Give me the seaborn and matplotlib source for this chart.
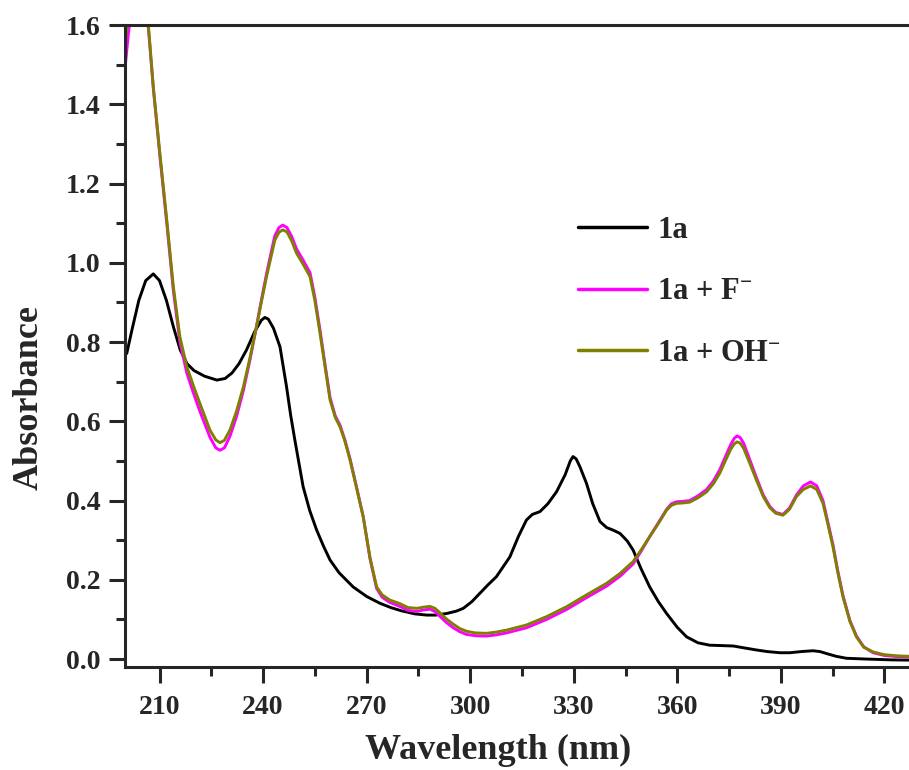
import numpy as np
import pandas as pd
import matplotlib
matplotlib.use("Agg")
import matplotlib.pyplot as plt
import seaborn as sns

# UV-vis absorption spectra of 1a alone and with added F- / OH-
wl_1a = [200.5, 202, 204, 206, 208.2, 210, 212, 214, 216, 218,
         220, 223, 226.6, 229, 231, 233, 235.2, 237.5, 239.5, 240.5,
         241.5, 243, 244.9, 246.8, 248, 249.2, 251.6, 253.5, 255.5, 257.5,
         259.4, 262, 266.1, 270, 273.8, 277, 280, 284, 287.4, 290,
         293.2, 296, 298, 300.5, 302.8, 305, 307.6, 311.5, 314, 316.3,
         318, 320.2, 322.5, 325, 327.5, 329, 329.8, 330.7, 331.8, 333.7,
         335.5, 337.6, 339.5, 341.5, 343.4, 345.5, 347.2, 349.5, 352, 354.5,
         356.9, 360, 362.7, 366, 369.4, 373, 376.2, 379.5, 382.9, 386,
         389.7, 392.6, 396, 399.3, 401.3, 403.2, 406, 409, 415, 422,
         430]
abs_1a = [0.771, 0.830, 0.905, 0.955, 0.972, 0.955, 0.905, 0.839, 0.780, 0.745,
          0.728, 0.714, 0.704, 0.708, 0.722, 0.745, 0.780, 0.825, 0.855, 0.862,
          0.858, 0.835, 0.788, 0.687, 0.615, 0.553, 0.435, 0.375, 0.326, 0.285,
          0.250, 0.218, 0.182, 0.158, 0.141, 0.130, 0.122, 0.114, 0.111, 0.111,
          0.115, 0.121, 0.128, 0.145, 0.166, 0.186, 0.208, 0.258, 0.310, 0.351,
          0.365, 0.372, 0.392, 0.422, 0.465, 0.500, 0.511, 0.505, 0.485, 0.443,
          0.392, 0.347, 0.332, 0.325, 0.317, 0.298, 0.275, 0.228, 0.182, 0.145,
          0.115, 0.080, 0.056, 0.041, 0.035, 0.034, 0.033, 0.028, 0.023, 0.019,
          0.016, 0.016, 0.019, 0.021, 0.019, 0.014, 0.007, 0.002, 0.000, -0.002,
          -0.003]

wl_anion = [200, 201, 202, 203.5, 205, 206, 206.8, 208.2, 210.1, 212.1,
            214, 215.9, 217.9, 219.8, 221.7, 224.6, 226.3, 227.5, 228.8, 230.4,
            232.3, 234.3, 236.2, 238.1, 239.6, 241, 242.3, 243.4, 244.6, 245.7,
            246.9, 248.3, 249.7, 251.7, 253.6, 255, 256.5, 258, 259.4, 260.9,
            262.3, 263.7, 265.2, 267, 269, 271, 272.9, 274.5, 276.7, 279.6,
            282, 284.5, 286.5, 288.3, 289.8, 291.2, 293, 295.1, 297, 299,
            301.5, 304.7, 307.5, 310.5, 316.3, 322.1, 327.9, 333.7, 339.5, 343.4,
            347.2, 349.5, 352, 354.5, 356.9, 358.3, 359.8, 361.7, 363.6, 366,
            368.5, 370.5, 372.3, 374, 375.5, 376.5, 377.3, 378.2, 379.2, 381,
            383, 384.9, 386.8, 388.5, 390.6, 392.5, 394.5, 396.5, 398.6, 400.4,
            402.2, 403.5, 405.1, 406.5, 408, 410, 411.9, 414, 416.7, 420,
            424, 430]
abs_f = [1.49, 1.58, 1.65, 1.72, 1.70, 1.64, 1.59, 1.44, 1.27, 1.10,
         0.930, 0.800, 0.722, 0.672, 0.625, 0.560, 0.533, 0.527, 0.533, 0.562,
         0.612, 0.678, 0.755, 0.840, 0.910, 0.972, 1.025, 1.068, 1.089, 1.095,
         1.089, 1.066, 1.035, 1.005, 0.975, 0.913, 0.830, 0.740, 0.660, 0.614,
         0.590, 0.553, 0.505, 0.437, 0.360, 0.252, 0.178, 0.156, 0.143, 0.133,
         0.123, 0.120, 0.124, 0.126, 0.120, 0.108, 0.093, 0.079, 0.069, 0.062,
         0.059, 0.058, 0.061, 0.066, 0.079, 0.100, 0.125, 0.155, 0.184, 0.209,
         0.240, 0.272, 0.309, 0.344, 0.378, 0.392, 0.397, 0.398, 0.400, 0.412,
         0.428, 0.450, 0.478, 0.512, 0.542, 0.557, 0.563, 0.559, 0.545, 0.503,
         0.456, 0.414, 0.385, 0.370, 0.365, 0.381, 0.414, 0.437, 0.447, 0.437,
         0.400, 0.350, 0.288, 0.222, 0.160, 0.097, 0.058, 0.031, 0.016, 0.009,
         0.006, 0.004]
abs_oh = [1.55, 1.63, 1.69, 1.75, 1.72, 1.66, 1.596, 1.444, 1.276, 1.108,
          0.940, 0.813, 0.738, 0.690, 0.645, 0.578, 0.553, 0.546, 0.552, 0.578,
          0.625, 0.687, 0.760, 0.839, 0.905, 0.965, 1.015, 1.057, 1.077, 1.083,
          1.078, 1.055, 1.024, 0.995, 0.965, 0.905, 0.822, 0.735, 0.654, 0.610,
          0.586, 0.550, 0.502, 0.435, 0.359, 0.255, 0.182, 0.162, 0.149, 0.140,
          0.130, 0.128, 0.131, 0.133, 0.128, 0.117, 0.102, 0.088, 0.077, 0.070,
          0.066, 0.065, 0.068, 0.073, 0.086, 0.107, 0.132, 0.162, 0.191, 0.216,
          0.246, 0.275, 0.309, 0.342, 0.376, 0.388, 0.393, 0.394, 0.396, 0.407,
          0.422, 0.443, 0.469, 0.502, 0.530, 0.543, 0.548, 0.545, 0.532, 0.494,
          0.450, 0.410, 0.382, 0.368, 0.363, 0.378, 0.410, 0.428, 0.437, 0.428,
          0.393, 0.345, 0.283, 0.218, 0.157, 0.095, 0.056, 0.030, 0.018, 0.011,
          0.008, 0.006]

series_names = ["1a", r"1a + F$^{\mathbf{-}}$", r"1a + OH$^{\mathbf{-}}$"]
series_colors = ["#000000", "#FF00FF", "#808000"]

x_ticks = [210, 240, 270, 300, 330, 360, 390, 420]
y_ticks = [0.0, 0.2, 0.4, 0.6, 0.8, 1.0, 1.2, 1.4, 1.6]

df = pd.concat([
    pd.DataFrame({"Wavelength": wl_1a, "Absorbance": abs_1a, "Sample": series_names[0]}),
    pd.DataFrame({"Wavelength": wl_anion, "Absorbance": abs_f, "Sample": series_names[1]}),
    pd.DataFrame({"Wavelength": wl_anion, "Absorbance": abs_oh, "Sample": series_names[2]}),
], ignore_index=True)

sns.set_theme(style="ticks")
plt.rcParams["font.family"] = ["Liberation Serif", "DejaVu Serif"]
plt.rcParams["font.weight"] = "bold"
plt.rcParams["mathtext.fontset"] = "custom"
plt.rcParams["mathtext.rm"] = "Liberation Serif:bold"
plt.rcParams["mathtext.bf"] = "Liberation Serif:bold"
plt.rcParams["mathtext.it"] = "Liberation Serif:bold"

fig = plt.figure(figsize=(9.09, 7.70), dpi=100)
ax = fig.add_axes([125 / 909, 103 / 770, 790.5 / 909, 642 / 770])

sns.lineplot(data=df, x="Wavelength", y="Absorbance", hue="Sample",
             hue_order=series_names, palette=series_colors, sort=False,
             estimator=None, linewidth=2.1, ax=ax)

ax.set_xlim(200, 429)
ax.set_ylim(-0.02, 1.6)
ax.set_xticks(x_ticks)
ax.set_yticks(y_ticks)
ax.set_yticklabels([f"{v:.1f}" for v in y_ticks])
ax.set_xticks(np.arange(225, 430, 30), minor=True)
ax.set_yticks(np.arange(0.1, 1.6, 0.2), minor=True)

for s in ax.spines.values():
    s.set_linewidth(2.2)
ax.spines["right"].set_visible(False)
ax.tick_params(axis="both", which="major", length=11.5, width=2.2, direction="out",
               labelsize=20, pad=6)
ax.tick_params(axis="x", which="major", pad=9)
ax.tick_params(axis="both", which="minor", length=6.5, width=2.2, direction="out")
for lab in ax.get_xticklabels() + ax.get_yticklabels():
    lab.set_fontweight("bold")

ax.set_xlabel("Wavelength (nm)", fontsize=26, fontweight="bold")
ax.set_ylabel("Absorbance", fontsize=26, fontweight="bold")
ax.xaxis.set_label_coords(0.472, -0.104)
ax.yaxis.set_label_coords(-0.1, 0.42)

leg = ax.legend(loc="upper left", bbox_to_anchor=(578 / 909, 1 - 216 / 770),
                bbox_transform=fig.transFigure, frameon=False, fontsize=22,
                borderpad=0, borderaxespad=0, handlelength=2.26, handletextpad=0.33,
                labelspacing=1.06)
for line in leg.get_lines():
    line.set_linewidth(2.5)
for t in leg.get_texts():
    t.set_fontweight("bold")

fig.savefig("out.png", dpi=100)
